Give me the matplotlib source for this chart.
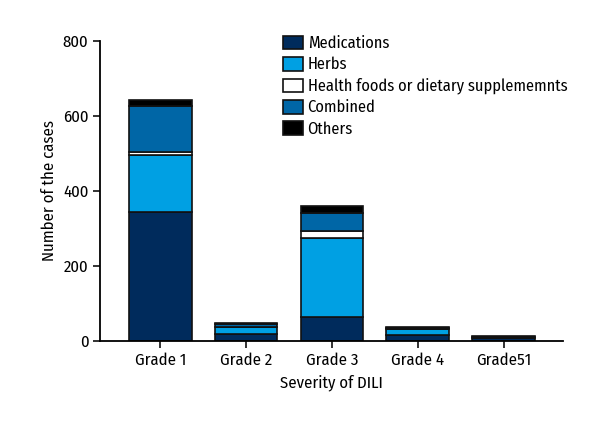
import numpy as np
import matplotlib
matplotlib.use("Agg")
import matplotlib.pyplot as plt
from matplotlib.patches import Patch

plt.rcParams['font.family'] = ['Fira Sans Condensed', 'Asap Condensed', 'DejaVu Sans']

grades = ['Grade 1', 'Grade 2', 'Grade 3', 'Grade 4', 'Grade51']
medications = [345, 18, 65, 15, 8]
herbs = [150, 18, 210, 17, 0]
health_foods = [8, 2, 18, 1, 0]
combined = [124, 7, 48, 2, 2]
others = [15, 4, 18, 3, 3]

series = [
    ('Medications', medications, '#002b5c'),
    ('Herbs', herbs, '#00a0e3'),
    ('Health foods or dietary supplememnts', health_foods, '#ffffff'),
    ('Combined', combined, '#0066a6'),
    ('Others', others, '#000000'),
]

fig = plt.figure(figsize=(6, 4.4), dpi=100)
ax = fig.add_axes([0.167, 0.225, 0.771, 0.682])

x = np.arange(len(grades))
bottom = np.zeros(len(grades))
handles = []
for name, vals, col in series:
    vals = np.array(vals, dtype=float)
    ax.bar(x, vals, 0.73, bottom=bottom, color=col, edgecolor='#111111', linewidth=1.2)
    bottom += vals
    handles.append(Patch(facecolor=col, edgecolor='#111111', linewidth=1.2, label=name))

ax.set_xlim(-0.7, 4.69)
ax.set_ylim(0, 800)
ax.set_yticks([0, 200, 400, 600, 800])
ax.set_xticks(x)
ax.set_xticklabels(grades)
ax.spines['top'].set_visible(False)
ax.spines['right'].set_visible(False)
ax.spines['left'].set_linewidth(1.3)
ax.spines['bottom'].set_linewidth(1.3)
ax.tick_params(axis='both', labelsize=12, width=1.3, length=5, color='#222222')
ax.set_xlabel('Severity of DILI', fontsize=12)
ax.set_ylabel('Number of the cases', fontsize=12)

ax.legend(handles=handles, loc='upper left', bbox_to_anchor=(0.381, 1.04), frameon=False,
          fontsize=11.8, handlelength=1.25, handleheight=0.9, handletextpad=0.25,
          labelspacing=0.32, borderaxespad=0)

fig.savefig('out.png', dpi=100)
